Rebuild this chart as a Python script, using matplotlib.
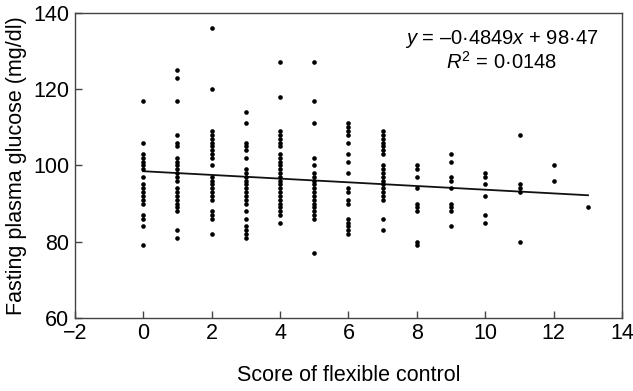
import numpy as np
import matplotlib
matplotlib.use('Agg')
import matplotlib.pyplot as plt

plt.rcParams['font.family'] = ['Liberation Sans', 'DejaVu Sans']
plt.rcParams['mathtext.fontset'] = 'custom'
plt.rcParams['mathtext.rm'] = 'Liberation Sans'
plt.rcParams['mathtext.it'] = 'Liberation Sans:italic'

# glucose values read per score of flexible control
scores = list(range(14))
glucose = [
	[117, 106, 103, 102, 101, 100, 99, 97, 95, 94, 93, 92, 91, 90, 87, 86, 84, 79],
	[125, 123, 117, 108, 106, 105, 102, 101, 100, 99, 98, 97, 96, 94, 93, 92, 91, 90, 89, 88, 83, 81],
	[136, 120, 109, 108, 107, 106, 105, 104, 103, 102, 100, 97, 96, 95, 94, 93, 92, 91, 88, 87, 86, 82],
	[114, 111, 106, 105, 104, 102, 99, 98, 97, 96, 95, 94, 93, 92, 91, 90, 88, 86, 84, 83, 82, 81],
	[127, 118, 109, 108, 107, 106, 105, 103, 102, 101, 100, 99, 98, 97, 96, 95, 94, 93, 92, 91, 90, 89, 88, 87, 85],
	[127, 117, 111, 102, 100, 98, 97, 96, 95, 94, 93, 92, 91, 90, 89, 88, 87, 86, 77],
	[111, 110, 109, 108, 106, 103, 101, 98, 94, 93, 91, 90, 86, 85, 84, 83, 82],
	[109, 108, 107, 106, 105, 104, 103, 100, 99, 98, 97, 96, 95, 94, 93, 92, 91, 86, 83],
	[100, 99, 97, 94, 90, 89, 88, 80, 79],
	[103, 101, 97, 96, 94, 90, 89, 88, 84],
	[98, 97, 95, 92, 87, 85],
	[108, 95, 94, 93, 80],
	[100, 96],
	[89],
]

slope = -0.4849
intercept = 98.47
r2 = 0.0148

xs = []
ys = []
for s, vals in zip(scores, glucose):
	for v in vals:
		xs.append(s)
		ys.append(v)

fig = plt.figure(figsize=(6.33, 3.91), dpi=100)
ax = fig.add_axes([0.118, 0.187, 0.865, 0.780])

ax.scatter(xs, ys, s=11, color='black', zorder=3, linewidths=0)
lx = np.array([scores[0], scores[-1]])
ax.plot(lx, slope*lx + intercept, color='#111111', lw=1.3, zorder=2)

ax.set_xlim(-2, 14)
ax.set_ylim(60, 140)
ax.set_xticks(range(-2, 15, 2))
ax.set_yticks(range(60, 141, 20))
ax.set_xticklabels(['\u22122' if t < 0 else str(t) for t in range(-2, 15, 2)])

for sp in ax.spines.values():
	sp.set_color('#444444')
	sp.set_linewidth(1.0)
ax.tick_params(direction='in', length=5, width=1, color='#444444', labelsize=15.5, pad=4)

ax.set_xlabel('Score of flexible control', fontsize=15.5, labelpad=15)
ax.set_ylabel('Fasting plasma glucose (mg/dl)', fontsize=15.5, labelpad=4)

eq = '$y$ = \u20130\u00b74849$x$ + 98\u00b747'
ax.text(0.78, 0.95, eq, transform=ax.transAxes, ha='center', va='top', fontsize=14.5)
ax.text(0.78, 0.875, '$R^{\\mathrm{2}}$ = 0\u00b7' + '0148', transform=ax.transAxes,
	ha='center', va='top', fontsize=14.5)

plt.savefig('out.png', dpi=100)
